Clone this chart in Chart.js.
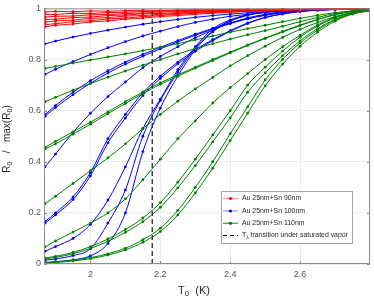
<!DOCTYPE html>
<html><head><meta charset="utf-8">
<script src="https://cdn.jsdelivr.net/npm/chart.js@4.4.0/dist/chart.umd.min.js"></script>
<style>html,body{margin:0;padding:0;background:#fff;}canvas{display:block;}</style>
</head><body>
<canvas id="c" width="374" height="297"></canvas>
<script>
// ---- data ----
const T = [1.87,1.90,1.95,2.00,2.05,2.10,2.15,2.20,2.25,2.30,2.35,2.40,2.45,2.50,2.55,2.60,2.65,2.70,2.75,2.80];
const xTicks = [2, 2.2, 2.4, 2.6];
const xTickLabels = ['2', '2.2', '2.4', '2.6'];
const yTicks = [0, 0.2, 0.4, 0.6, 0.8, 1];
const yTickLabels = ['0', '0.2', '0.4', '0.6', '0.8', '1'];
const xRange = [1.867, 2.8];
const T_LAMBDA = 2.1768;

// Au 25nm + Sn 90nm (red)
const red1 = [.986,.988,.987,.990,.989,.991,.993,.992,.994,.995,.995,.996,.997,.997,.998,.998,.999,.999,1.0,1.0];
const red2 = [.977,.976,.981,.980,.984,.985,.988,.989,.991,.992,.993,.994,.995,.996,.997,.998,.998,.999,.999,1.0];
const red3 = [.966,.969,.970,.975,.976,.980,.982,.986,.987,.989,.991,.992,.994,.995,.996,.997,.998,.999,.999,1.0];
const red4 = [.957,.958,.964,.966,.972,.974,.979,.980,.984,.986,.989,.991,.993,.994,.995,.996,.997,.998,.999,.999];
const red5 = [.946,.951,.954,.961,.964,.970,.972,.977,.980,.984,.987,.989,.991,.993,.994,.996,.997,.998,.999,.999];
const red6 = [.937,.940,.948,.952,.959,.962,.968,.972,.977,.981,.984,.987,.989,.991,.993,.995,.996,.997,.998,.999];
const red7 = [.928,.934,.939,.947,.951,.958,.962,.968,.972,.977,.981,.985,.988,.990,.992,.994,.996,.997,.998,.999];

// Au 25nm + Sn 100nm (blue)
const blue1 = [.861,.872,.888,.902,.915,.927,.938,.948,.957,.965,.972,.978,.983,.987,.990,.993,.995,.997,.998,.999];
const blue2 = [.742,.762,.792,.820,.846,.870,.892,.911,.929,.945,.958,.969,.977,.984,.989,.992,.995,.997,.998,.999];
const blue3 = [.584,.620,.672,.717,.756,.790,.820,.848,.874,.899,.922,.943,.960,.974,.984,.990,.994,.996,.998,.999];
const blue3b = [.578,.612,.662,.707,.747,.782,.813,.842,.869,.895,.919,.941,.959,.973,.983,.990,.994,.996,.998,.999];
const blue4 = [.380,.430,.515,.590,.655,.712,.768,.812,.850,.885,.915,.942,.963,.977,.987,.992,.995,.997,.998,.999];
const blue5 = [.166,.200,.262,.358,.490,.585,.670,.735,.790,.838,.878,.913,.943,.965,.979,.988,.993,.996,.998,.999];
const blue5b = [.160,.192,.252,.345,.474,.571,.659,.726,.783,.832,.874,.910,.941,.964,.978,.988,.993,.996,.998,.999];
const blue6 = [.050,.068,.100,.155,.250,.380,.530,.645,.760,.850,.920,.955,.975,.986,.992,.995,.997,.998,.999,.999];
const blue7 = [.015,.020,.033,.060,.160,.290,.500,.640,.750,.845,.912,.952,.974,.986,.992,.995,.997,.998,.999,.999];
const blue8 = [.006,.009,.016,.032,.080,.200,.440,.610,.735,.838,.908,.950,.973,.985,.992,.995,.997,.998,.999,.999];

// Au 25nm + Sn 110nm (green)
const green1 = [.765,.773,.786,.798,.810,.822,.835,.848,.862,.877,.892,.907,.921,.934,.948,.961,.973,.983,.990,.995];
const green2 = [.635,.652,.680,.706,.731,.755,.778,.800,.822,.843,.862,.880,.897,.913,.930,.948,.965,.980,.990,.995];
const green3 = [.457,.480,.517,.555,.595,.635,.673,.709,.740,.770,.800,.829,.857,.884,.910,.935,.957,.976,.988,.994];
const green3b = [.450,.470,.508,.547,.588,.628,.667,.703,.735,.766,.796,.826,.855,.882,.908,.933,.956,.975,.988,.994];
const green4 = [.236,.265,.315,.365,.415,.470,.530,.585,.637,.685,.730,.775,.815,.852,.887,.918,.945,.968,.984,.993];
const green5 = [.067,.090,.125,.160,.200,.255,.330,.410,.490,.560,.630,.690,.745,.800,.850,.895,.935,.965,.983,.993];
const green6 = [.023,.030,.045,.068,.098,.135,.180,.240,.320,.410,.505,.600,.700,.770,.833,.887,.931,.963,.982,.992];
const green6b = [.020,.026,.040,.061,.089,.124,.166,.222,.298,.385,.478,.572,.672,.748,.815,.873,.921,.957,.979,.991];
const green7 = [.005,.008,.015,.025,.040,.062,.095,.140,.210,.300,.400,.510,.615,.720,.800,.865,.915,.955,.980,.992];
const green7b = [.004,.006,.012,.021,.035,.055,.085,.127,.192,.278,.375,.483,.590,.697,.782,.852,.907,.950,.978,.991];

const legendLabels = ['Au 25nm+Sn 90nm', 'Au 25nm+Sn 100nm', 'Au 25nm+Sn 110nm'];

const RED = '#ff0000', BLUE = '#0000ff', GREEN = '#008000';
const FONT = '"Liberation Sans", Arial, Helvetica, sans-serif';

function series(arr, color) {
  return {
    data: T.map((t, i) => ({ x: t, y: arr[i] })),
    borderColor: color, backgroundColor: color,
    borderWidth: 1, pointRadius: 1.4, pointBorderWidth: 0,
    pointBackgroundColor: color, cubicInterpolationMode: 'monotone', fill: false
  };
}

const datasets = [
  { data: [{ x: T_LAMBDA, y: 0 }, { x: T_LAMBDA, y: 1 }], borderColor: '#333333', borderWidth: 1.4,
    borderDash: [5, 3], pointRadius: 0, fill: false },
  ...[red1, red2, red3, red4, red5, red6, red7].map(a => series(a, RED)),
  ...[green1, green2, green3, green3b, green4, green5, green6, green6b, green7, green7b].map(a => series(a, GREEN)),
  ...[blue1, blue2, blue3, blue3b, blue4, blue5, blue5b, blue6, blue7, blue8].map(a => series(a, BLUE))
];

function drawRich(ctx, parts, x, y, size, align) {
  const sub = size * 0.72;
  let w = 0;
  parts.forEach(p => { ctx.font = (p.sub ? sub : size) + 'px ' + FONT; p.w = ctx.measureText(p.t).width; w += p.w; });
  let cx = align === 'center' ? x - w / 2 : x;
  parts.forEach(p => {
    ctx.font = (p.sub ? sub : size) + 'px ' + FONT;
    ctx.fillText(p.t, cx, p.sub ? y + size * 0.28 : y);
    cx += p.w;
  });
}

const decor = {
  id: 'decor',
  afterDatasetsDraw(chart) {
    const { ctx, chartArea: a } = chart;
    const xs = chart.scales.x, ys = chart.scales.y;
    ctx.save();
    ctx.strokeStyle = '#8c8c8c';
    ctx.lineWidth = 1;
    ctx.beginPath();
    xTicks.forEach(v => { const px = Math.round(xs.getPixelForValue(v)) + 0.5;
      ctx.moveTo(px, a.bottom); ctx.lineTo(px, a.bottom - 3);
      ctx.moveTo(px, a.top); ctx.lineTo(px, a.top + 3); });
    yTicks.forEach(v => { const py = Math.round(ys.getPixelForValue(v)) + 0.5;
      ctx.moveTo(a.left, py); ctx.lineTo(a.left + 3, py);
      ctx.moveTo(a.right, py); ctx.lineTo(a.right - 3, py); });
    ctx.stroke();
    ctx.strokeRect(a.left + 0.5, a.top + 0.5, a.right - a.left - 1, a.bottom - a.top - 1);
    ctx.restore();
  },
  afterDraw(chart) {
    const ctx = chart.ctx;
    ctx.save();
    ctx.fillStyle = '#262626';
    ctx.textBaseline = 'middle';
    drawRich(ctx, [{ t: 'T' }, { t: '0', sub: true }, { t: '  (K)' }], 194, 291, 11, 'center');
    ctx.save();
    ctx.translate(7, 139);
    ctx.rotate(-Math.PI / 2);
    drawRich(ctx, [{ t: 'R' }, { t: '0', sub: true }, { t: '   /   max(R' }, { t: '0', sub: true }, { t: ')' }], 0, 0, 10, 'center');
    ctx.restore();
    // legend
    const bx = 221, by = 191, bw = 131, bh = 52;
    ctx.fillStyle = '#ffffff';
    ctx.fillRect(bx, by, bw, bh);
    ctx.strokeStyle = '#a6a6a6';
    ctx.lineWidth = 1;
    ctx.strokeRect(bx + 0.5, by + 0.5, bw, bh);
    const items = [
      { line: '#ff9a9a', dot: RED, label: [{ t: legendLabels[0] }] },
      { line: '#9a9aff', dot: BLUE, label: [{ t: legendLabels[1] }] },
      { line: '#3c9c3c', dot: GREEN, label: [{ t: legendLabels[2] }] },
      { dash: true, label: [{ t: 'T' }, { t: 'λ', sub: true }, { t: ' transition under saturated vapor' }] }
    ];
    const rows = [198.5, 211, 223.3, 235.5];
    items.forEach((it, i) => {
      const y = rows[i];
      ctx.beginPath();
      if (it.dash) {
        ctx.strokeStyle = '#000'; ctx.lineWidth = 1.2; ctx.setLineDash([4, 3]);
      } else {
        ctx.strokeStyle = it.line; ctx.lineWidth = 1.2; ctx.setLineDash([]);
      }
      ctx.moveTo(223, y); ctx.lineTo(238, y); ctx.stroke();
      ctx.setLineDash([]);
      if (it.dot) {
        ctx.fillStyle = it.dot; ctx.beginPath(); ctx.arc(230.5, y, 1.6, 0, Math.PI * 2); ctx.fill();
      }
      ctx.fillStyle = '#262626';
      ctx.textBaseline = 'middle';
      drawRich(ctx, it.label, 242, y, 6.9, 'left');
    });
    ctx.restore();
  }
};

new Chart(document.getElementById('c'), {
  type: 'line',
  data: { datasets },
  options: {
    responsive: false, animation: false, devicePixelRatio: 1,
    layout: { padding: { left: 0, right: 1, top: 3, bottom: 0 } },
    plugins: { legend: { display: false }, tooltip: { enabled: false } },
    scales: {
      x: {
        type: 'linear', min: xRange[0], max: xRange[1],
        afterBuildTicks: s => { s.ticks = xTicks.map(v => ({ value: v })); },
        afterFit: s => { s.height = 33; },
        ticks: { font: { size: 9, family: FONT }, color: '#555555', padding: 5,
          callback: v => xTickLabels[xTicks.findIndex(t => Math.abs(t - v) < 1e-9)] ?? '' },
        grid: { color: '#ebebeb', drawTicks: false },
        border: { display: false }
      },
      y: {
        type: 'linear', min: 0, max: 1,
        afterBuildTicks: s => { s.ticks = yTicks.map(v => ({ value: v })); },
        afterFit: s => { s.width = 44; },
        ticks: { font: { size: 9, family: FONT }, color: '#555555', padding: 3,
          callback: v => yTickLabels[yTicks.findIndex(t => Math.abs(t - v) < 1e-9)] ?? '' },
        grid: { color: '#ebebeb', drawTicks: false },
        border: { display: false }
      }
    }
  },
  plugins: [decor]
});
</script>
</body></html>
